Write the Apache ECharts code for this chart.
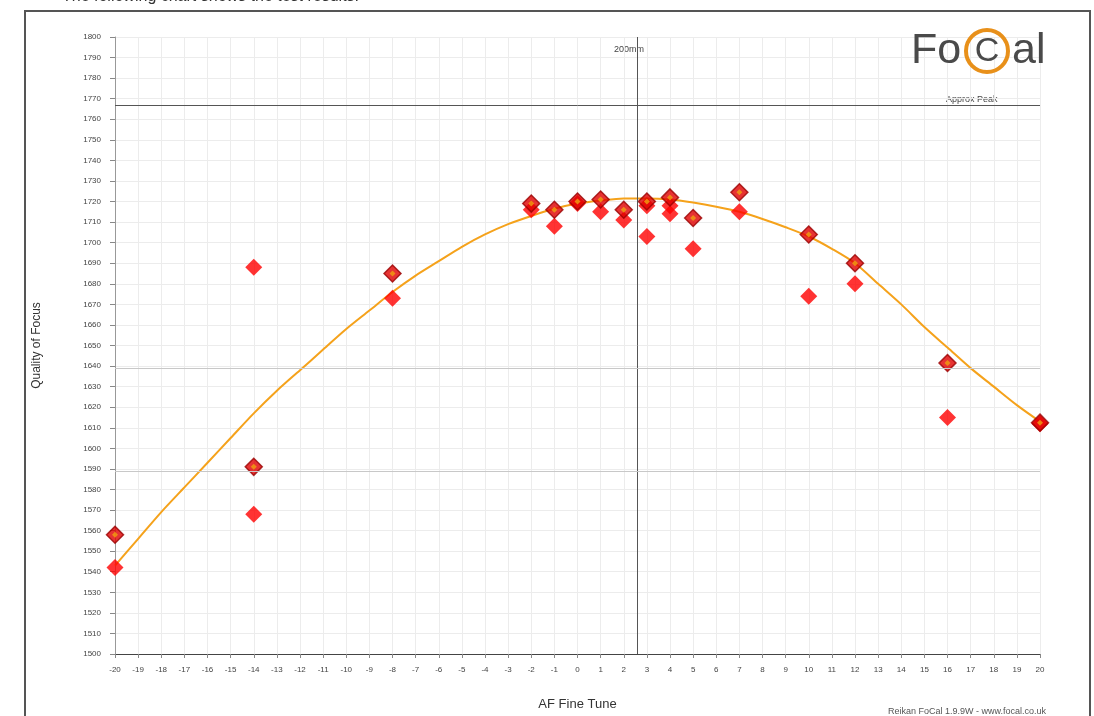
<!DOCTYPE html>
<html>
<head>
<meta charset="utf-8">
<script src="https://cdn.jsdelivr.net/npm/echarts@6/dist/echarts.min.js"></script>
<style>html,body{margin:0;padding:0;background:#fff;}#c{width:1094px;height:716px;}</style>
</head>
<body>
<div id="c"></div>
<script>
// Plain red diamonds [AF fine tune, quality]
var plainPoints = [
  [-20, 1542], [-14, 1688], [-14, 1568], [-8, 1673], [-2, 1716], [-1, 1708],
  [0, 1719], [1, 1715], [2, 1711], [3, 1718], [3, 1703], [4, 1718], [4, 1714],
  [5, 1697], [7, 1715], [10, 1674], [12, 1680], [16, 1615], [20, 1612]
];
// Red diamonds with orange centre
var markedPoints = [
  [-20, 1558], [-14, 1591], [-8, 1685], [-2, 1719], [-1, 1716], [0, 1720],
  [1, 1721], [2, 1716], [3, 1720], [4, 1722], [5, 1712], [7, 1724.5],
  [10, 1704], [12, 1690], [16, 1641.5], [20, 1612.5]
];
// Fitted curve at each AF step
var curveX = [-20, -19, -18, -17, -16, -15, -14, -13, -12, -11, -10, -9, -8, -7, -6, -5, -4, -3, -2, -1,
              0, 1, 2, 3, 4, 5, 6, 7, 8, 9, 10, 11, 12, 13, 14, 15, 16, 17, 18, 19, 20];
var curveY = [1543, 1556, 1569, 1581, 1593, 1605, 1617, 1628, 1638, 1648, 1658, 1667, 1676, 1684, 1691, 1698, 1704, 1709, 1713, 1716.5,
              1719, 1720.5, 1721.5, 1721.5, 1721, 1719.5, 1717.5, 1715, 1711.5, 1707.5, 1703, 1697, 1690, 1680, 1670, 1659, 1649, 1639, 1630, 1621, 1613];
var focusX = 2.6;          // "200mm" vertical line
var peakY = 1767;          // "Approx Peak" horizontal line
var majorY = [1639, 1589]; // darker horizontal grid lines

var chart = echarts.init(document.getElementById('c'));
var curve = curveX.map(function (x, i) { return [x, curveY[i]]; });
var fontFam = '"Liberation Sans", Arial, sans-serif';

chart.setOption({
  animation: false,
  backgroundColor: '#fff',
  grid: { left: 115, right: 54, top: 37, bottom: 55 },
  xAxis: {
    type: 'value', min: -20, max: 20, interval: 1,
    name: 'AF Fine Tune', nameLocation: 'middle', nameGap: 44,
    nameTextStyle: { fontFamily: fontFam, fontSize: 13, color: '#333' },
    axisLine: { onZero: false, lineStyle: { color: '#444', width: 1 } },
    axisTick: { length: 4, lineStyle: { color: '#888' } },
    axisLabel: { fontSize: 8, color: '#444', margin: 12, fontFamily: fontFam,
      formatter: function (v) { return String(v); } },
    splitLine: { lineStyle: { color: '#ececec', width: 1 } }
  },
  yAxis: {
    type: 'value', min: 1500, max: 1800, interval: 10,
    name: 'Quality of Focus', nameLocation: 'middle', nameGap: 72, nameRotate: 90,
    nameTextStyle: { fontFamily: fontFam, fontSize: 12, color: '#333' },
    axisLine: { show: true, onZero: false, lineStyle: { color: '#999', width: 1 } },
    axisTick: { show: true, length: 5, lineStyle: { color: '#888' } },
    axisLabel: { fontSize: 8, color: '#444', margin: 14, fontFamily: fontFam,
      formatter: function (v) { return String(v); } },
    splitLine: { lineStyle: { color: '#ececec', width: 1 } }
  },
  series: [
    {
      type: 'line', data: curve, smooth: 0.3, showSymbol: false, symbol: 'none',
      lineStyle: { color: '#f5a21b', width: 2 }, z: 2,
      markLine: {
        silent: true, symbol: 'none', label: { show: false },
        data: [
          { xAxis: focusX, lineStyle: { color: '#555', width: 1, type: 'solid' } },
          { yAxis: peakY, lineStyle: { color: '#555', width: 1, type: 'solid' } },
          { yAxis: majorY[0], lineStyle: { color: '#c8c8c8', width: 1, type: 'solid' } },
          { yAxis: majorY[1], lineStyle: { color: '#c8c8c8', width: 1, type: 'solid' } }
        ]
      }
    },
    {
      type: 'scatter', data: plainPoints, symbol: 'diamond', symbolSize: 17,
      itemStyle: { color: '#ff0000' }, z: 3
    },
    {
      type: 'scatter', data: markedPoints, symbol: 'diamond', symbolSize: 17,
      itemStyle: { color: '#e00000', borderColor: '#9a0000', borderWidth: 1.5 }, z: 4
    },
    {
      type: 'scatter', data: markedPoints, symbol: 'diamond', symbolSize: 6,
      itemStyle: { color: '#f0a010' }, z: 5
    }
  ],
  graphic: [
    { type: 'rect', shape: { x: 25, y: 11, width: 1065, height: 740 },
      style: { fill: 'none', stroke: '#555', lineWidth: 2 }, silent: true },
    { type: 'text', left: 62, top: -11,
      style: { text: 'The following chart shows the test results.', font: '16px ' + fontFam, fill: '#333' } },
    { type: 'text', left: 614, top: 45,
      style: { text: '200mm', font: '9px ' + fontFam, fill: '#444' } },
    { type: 'text', left: 946, top: 95,
      style: { text: 'Approx Peak', font: '9px ' + fontFam, fill: '#444' } },
    { type: 'text', x: 911, y: 30, z: 11,
      style: { text: 'Fo', font: '43px ' + fontFam, fill: '#4a4a4a' } },
    { type: 'circle', shape: { cx: 987, cy: 51, r: 21 }, z: 11,
      style: { fill: 'none', stroke: '#e8901a', lineWidth: 4 } },
    { type: 'text', x: 987, y: 52, z: 11,
      style: { text: 'C', font: '34px ' + fontFam, fill: '#4a4a4a', align: 'center', verticalAlign: 'middle' } },
    { type: 'text', x: 1012, y: 30, z: 11,
      style: { text: 'al', font: '43px ' + fontFam, fill: '#4a4a4a' } },
    { type: 'text', left: 888, top: 707,
      style: { text: 'Reikan FoCal 1.9.9W - www.focal.co.uk', font: '9px ' + fontFam, fill: '#555' } }
  ]
});
</script>
</body>
</html>
